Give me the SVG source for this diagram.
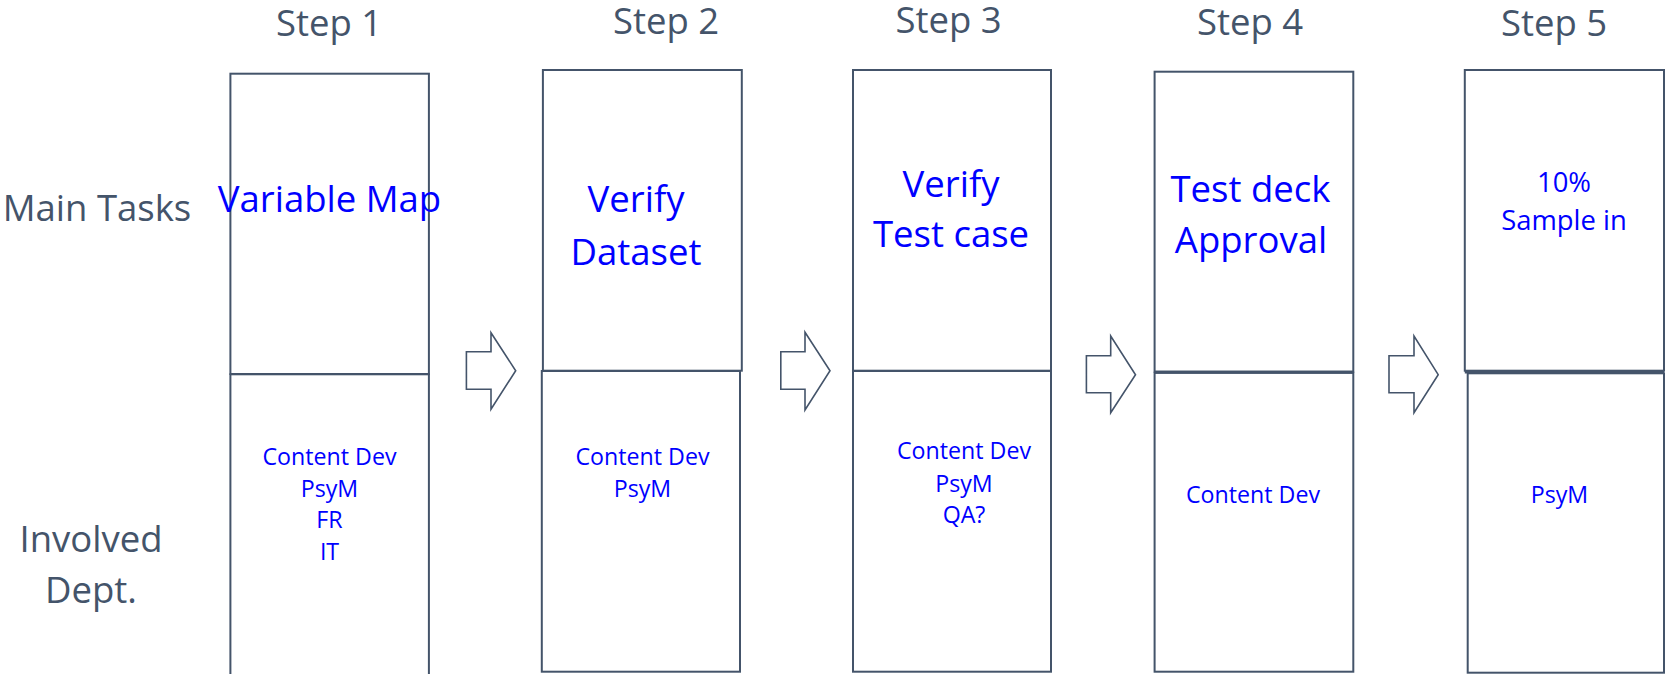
<svg xmlns="http://www.w3.org/2000/svg" width="1666" height="674" viewBox="0 0 1666 674">
<style>
.bx{fill:#fff;stroke:#44546A;stroke-width:2}
.thick{stroke-width:3}
.ar{fill:#fff;stroke:#44546A;stroke-width:1.6;stroke-linejoin:miter}
.hd{font-family:"Open Sans","Liberation Sans",sans-serif;font-size:36.5px;fill:#44546A;text-anchor:middle}
.mt{font-family:"Open Sans","Liberation Sans",sans-serif;font-size:36.5px;fill:#0000FF;text-anchor:middle}
.mt2{font-family:"Open Sans","Liberation Sans",sans-serif;font-size:27.4px;fill:#0000FF;text-anchor:middle}
.dp{font-family:"Open Sans","Liberation Sans",sans-serif;font-size:23.2px;fill:#0000FF;text-anchor:middle}
</style>
<rect width="1666" height="674" fill="#fff"/>
<g id="row-labels">
<text class="hd" x="97" y="221">Main Tasks</text>
<text class="hd" x="91" y="552">Involved</text>
<text class="hd" x="91" y="603">Dept.</text>
</g>
<g id="connectors">
<polygon class="ar" points="466.4,351.7 491,351.7 491,332.7 515.7,370.7 491,409.3 491,389.3 466.4,389.3"/>
<polygon class="ar" points="780.8,351.7 805,351.7 805,332.3 830,370.7 805,410 805,389.3 780.8,389.3"/>
<polygon class="ar" points="1086.4,355.7 1110.7,355.7 1110.7,336 1135.5,374.7 1110.7,412.7 1110.7,392.7 1086.4,392.7"/>
<polygon class="ar" points="1389,355.7 1414,355.7 1414,336 1438.2,374.7 1414,412.7 1414,392.7 1389,392.7"/>
</g>
<g id="step1">
<text class="hd" x="329" y="36">Step 1</text>
<rect class="bx" x="230.4" y="73.7" width="198.5" height="300.3"/>
<rect class="bx" x="230.4" y="374.3" width="198.5" height="310"/>
<text class="mt" x="329.5" y="211.5">Variable Map</text>
<text class="dp" x="329.5" y="465">Content Dev</text>
<text class="dp" x="329.5" y="496.7">PsyM</text>
<text class="dp" x="329.5" y="528.3">FR</text>
<text class="dp" x="329.5" y="560">IT</text>
</g>
<g id="step2">
<text class="hd" x="666" y="34">Step 2</text>
<rect class="bx" x="542.9" y="70" width="198.9" height="300.7"/>
<rect class="bx" x="541.8" y="371" width="198.2" height="300.7"/>
<text class="mt" x="636" y="211.5">Verify</text>
<text class="mt" x="636" y="265">Dataset</text>
<text class="dp" x="642.5" y="465">Content Dev</text>
<text class="dp" x="642.5" y="496.7">PsyM</text>
</g>
<g id="step3">
<text class="hd" x="948.6" y="33">Step 3</text>
<rect class="bx" x="853" y="70" width="198" height="300.7"/>
<rect class="bx" x="853" y="371" width="198" height="300.7"/>
<text class="mt" x="951" y="196.7">Verify</text>
<text class="mt" x="951" y="247.3">Test case</text>
<text class="dp" x="964" y="459.3">Content Dev</text>
<text class="dp" x="964" y="491.7">PsyM</text>
<text class="dp" x="964" y="523.3">QA?</text>
</g>
<g id="step4">
<text class="hd" x="1250" y="35">Step 4</text>
<rect class="bx" x="1154.6" y="71.7" width="198.7" height="300"/>
<rect class="bx" x="1154.6" y="372.7" width="198.7" height="299"/>
<line class="bx thick" x1="1154.6" y1="372.2" x2="1353.3" y2="372.2"/>
<text class="mt" x="1250.5" y="202.3">Test deck</text>
<text class="mt" x="1251" y="253.3">Approval</text>
<text class="dp" x="1253" y="503.3">Content Dev</text>
</g>
<g id="step5">
<text class="hd" x="1554" y="36">Step 5</text>
<rect class="bx" x="1464.8" y="70" width="199.2" height="300.7"/>
<rect class="bx" x="1467.7" y="373.3" width="196.3" height="299.4"/>
<line class="bx thick" x1="1464.8" y1="372" x2="1664" y2="372"/>
<text class="mt2" x="1564" y="192.3">10%</text>
<text class="mt2" x="1564" y="230">Sample in</text>
<text class="dp" x="1559.5" y="503.3">PsyM</text>
</g>
</svg>
